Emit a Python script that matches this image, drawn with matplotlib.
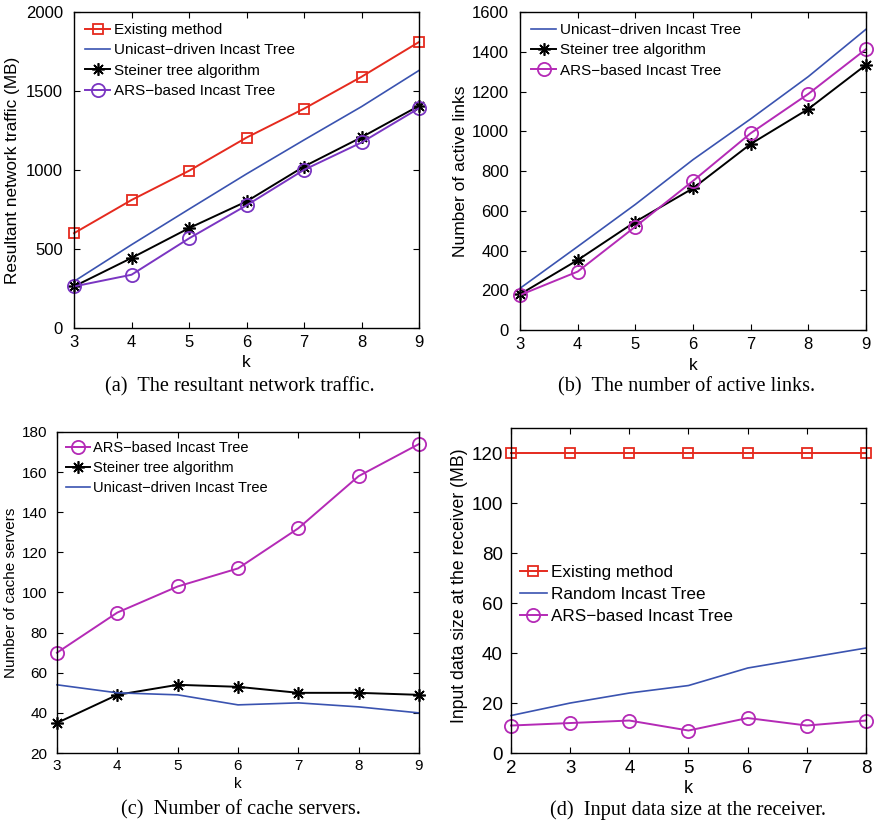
import matplotlib
matplotlib.use("Agg")
import matplotlib.pyplot as plt

plt.rcParams["font.family"] = ["Liberation Sans", "DejaVu Sans"]

RED = "#e52a1e"
BLUE = "#3a53b0"
PURPLE = "#7a35c2"
MAGENTA = "#b42ab6"

# (a) resultant network traffic
k_a = [3, 4, 5, 6, 7, 8, 9]
traffic_existing = [600, 810, 995, 1205, 1388, 1590, 1810]
traffic_unicast = [295, 527, 752, 975, 1190, 1401, 1630]
traffic_steiner = [263, 443, 632, 801, 1022, 1207, 1406]
traffic_ars = [263, 337, 567, 776, 1001, 1174, 1391]

# (b) number of active links
k_b = [3, 4, 5, 6, 7, 8, 9]
links_unicast = [210, 420, 632, 857, 1062, 1275, 1513]
links_steiner = [180, 352, 545, 713, 936, 1112, 1334]
links_ars = [176, 294, 520, 750, 990, 1188, 1413]

# (c) number of cache servers
k_c = [3, 4, 5, 6, 7, 8, 9]
cache_ars = [70, 90, 103, 112, 132, 158, 174]
cache_steiner = [35, 49, 54, 53, 50, 50, 49]
cache_unicast = [54, 50, 49, 44, 45, 43, 40]

# (d) input data size at the receiver
k_d = [2, 3, 4, 5, 6, 7, 8]
input_existing = [120, 120, 120, 120, 120, 120, 120]
input_random = [15, 20, 24, 27, 34, 38, 42]
input_ars = [11, 12, 13, 9, 14, 11, 13]

fig = plt.figure(figsize=(8.74, 8.22), dpi=100)

ax_a = fig.add_axes([0.0847, 0.601, 0.3947, 0.3844])
ax_b = fig.add_axes([0.595, 0.5985, 0.3958, 0.3869])
ax_c = fig.add_axes([0.0652, 0.0839, 0.4142, 0.3906])
ax_d = fig.add_axes([0.5847, 0.0839, 0.4061, 0.3954])


def style(ax, fs, ypad, xpad):
    ax.tick_params(direction="in", top=True, right=True, labelsize=fs,
                   length=4, width=0.8)
    ax.tick_params(axis="y", pad=ypad)
    ax.tick_params(axis="x", pad=xpad)
    for s in ax.spines.values():
        s.set_linewidth(1.0)


ASTERISK = (8, 2, 0)
sq = dict(marker="s", markersize=7.5, markerfacecolor="none", markeredgewidth=1.3)
st = dict(marker=ASTERISK, markersize=9, markeredgewidth=1.2)
ci = dict(marker="o", markersize=9.5, markerfacecolor="none", markeredgewidth=1.3)

leg_kw = dict(loc="upper left", frameon=False, handlelength=1.6,
              handletextpad=0.25, labelspacing=0.42, borderaxespad=0.0)

# panel (a)
ax_a.plot(k_a, traffic_existing, color=RED, lw=1.4, label="Existing method", **sq)
ax_a.plot(k_a, traffic_unicast, color=BLUE, lw=1.2, label="Unicast\u2212driven Incast Tree")
ax_a.plot(k_a, traffic_steiner, color="black", lw=1.4, label="Steiner tree algorithm", **st)
ax_a.plot(k_a, traffic_ars, color=PURPLE, lw=1.4, label="ARS\u2212based Incast Tree", **ci)
ax_a.set_xlim(3, 9)
ax_a.set_ylim(0, 2000)
ax_a.set_yticks([0, 500, 1000, 1500, 2000])
ax_a.set_xlabel("k", fontsize=12.5, labelpad=4)
ax_a.set_ylabel("Resultant network traffic (MB)", fontsize=12.4, labelpad=4)
style(ax_a, 12, 8, 5)
ax_a.legend(fontsize=11, bbox_to_anchor=(0.015, 0.985), **leg_kw)

# panel (b)
ax_b.plot(k_b, links_unicast, color=BLUE, lw=1.2, label="Unicast\u2212driven Incast Tree")
ax_b.plot(k_b, links_steiner, color="black", lw=1.4, label="Steiner tree algorithm", **st)
ax_b.plot(k_b, links_ars, color=MAGENTA, lw=1.4, label="ARS\u2212based Incast Tree", **ci)
ax_b.set_xlim(3, 9)
ax_b.set_ylim(0, 1600)
ax_b.set_yticks(range(0, 1601, 200))
ax_b.set_xlabel("k", fontsize=12.5, labelpad=4)
ax_b.set_ylabel("Number of active links", fontsize=12.5, labelpad=3)
style(ax_b, 12, 8, 5)
ax_b.legend(fontsize=11, bbox_to_anchor=(0.015, 0.985), **leg_kw)

# panel (c)
ax_c.plot(k_c, cache_ars, color=MAGENTA, lw=1.4, label="ARS\u2212based Incast Tree", **ci)
ax_c.plot(k_c, cache_steiner, color="black", lw=1.4, label="Steiner tree algorithm", **st)
ax_c.plot(k_c, cache_unicast, color=BLUE, lw=1.2, label="Unicast\u2212driven Incast Tree")
ax_c.set_xlim(3, 9)
ax_c.set_ylim(20, 180)
ax_c.set_yticks(range(20, 181, 20))
ax_c.set_xlabel("k", fontsize=11, labelpad=3)
ax_c.set_ylabel("Number of cache servers", fontsize=11, labelpad=3)
style(ax_c, 11, 7, 4)
ax_c.legend(fontsize=10.5, bbox_to_anchor=(0.01, 0.99), **leg_kw)

# panel (d)
ax_d.plot(k_d, input_existing, color=RED, lw=1.4, label="Existing method", **sq)
ax_d.plot(k_d, input_random, color=BLUE, lw=1.2, label="Random Incast Tree")
ax_d.plot(k_d, input_ars, color=MAGENTA, lw=1.4, label="ARS\u2212based Incast Tree", **ci)
ax_d.set_xlim(2, 8)
ax_d.set_ylim(0, 130)
ax_d.set_yticks(range(0, 121, 20))
ax_d.set_xlabel("k", fontsize=13, labelpad=2)
ax_d.set_ylabel("Input data size at the receiver (MB)", fontsize=12.7, labelpad=3)
ax_d.yaxis.set_label_coords(-0.12, 0.515)
style(ax_d, 13.5, 6, 5)
ax_d.legend(fontsize=12.3, bbox_to_anchor=(0.005, 0.6), **leg_kw)

for ax in (ax_a, ax_b, ax_c, ax_d):
    for ln in ax.lines:
        ln.set_clip_on(False)

serif = ["Liberation Serif", "DejaVu Serif"]
cap_fs = 14.6
fig.text(240 / 874, 1 - 387 / 822, "(a)  The resultant network traffic.",
         ha="center", va="center", fontsize=cap_fs, family=serif)
fig.text(687 / 874, 1 - 387 / 822, "(b)  The number of active links.",
         ha="center", va="center", fontsize=cap_fs, family=serif)
fig.text(241 / 874, 1 - 810 / 822, "(c)  Number of cache servers.",
         ha="center", va="center", fontsize=cap_fs, family=serif)
fig.text(688 / 874, 1 - 810 / 822, "(d)  Input data size at the receiver.",
         ha="center", va="center", fontsize=cap_fs, family=serif)

fig.savefig("out.png", dpi=100)
